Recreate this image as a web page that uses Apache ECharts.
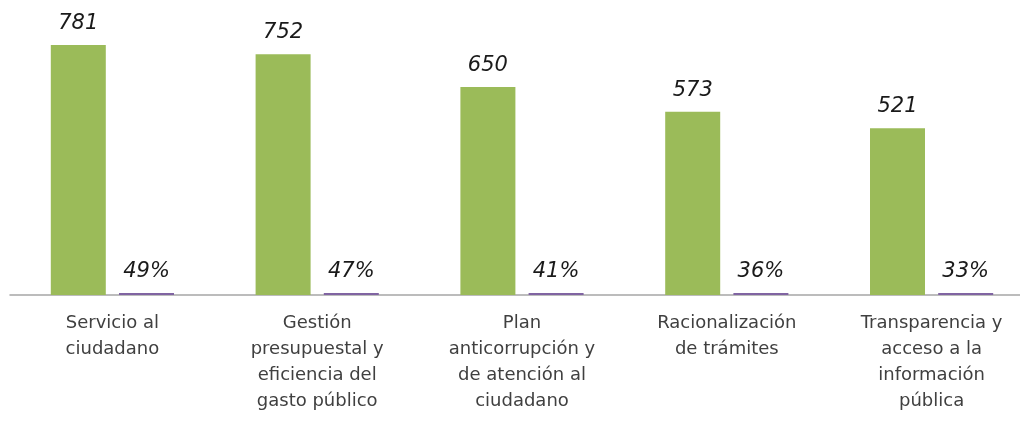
<!DOCTYPE html>
<html>
<head>
<meta charset="utf-8">
<script src="https://cdn.jsdelivr.net/npm/echarts@6/dist/echarts.min.js"></script>
<style>
  html, body { margin: 0; padding: 0; background: #fff; overflow: hidden; }
  /* the source image is cropped on the right, so the canvas runs past the window */
  #chart { width: 1034px; height: 421px; }
</style>
</head>
<body>
<div id="chart"></div>
<script>
const CATEGORIES = [
  "Servicio al\nciudadano",
  "Gestión\npresupuestal y\neficiencia del\ngasto público",
  "Plan\nanticorrupción y\nde atención al\nciudadano",
  "Racionalización\nde trámites",
  "Transparencia y\nacceso a la\ninformación\npública",
];
const COUNTS = [781, 752, 650, 573, 521];
const PERCENTS = [49, 47, 41, 36, 33];

const GREEN = "#9bbb59";
const PURPLE = "#8064a2";
const FONT = "'DejaVu Sans', sans-serif";

const chart = echarts.init(document.getElementById("chart"));

const valueLabel = (fmt) => ({
  show: true,
  position: "top",
  distance: 11,
  color: "#1a1a1a",
  fontStyle: "italic",
  fontFamily: FONT,
  fontSize: 21,
  formatter: fmt,
});

chart.setOption({
  animation: false,
  grid: { left: 10, right: 0, top: 39, bottom: 126 },
  xAxis: {
    type: "category",
    data: CATEGORIES,
    axisTick: { show: false },
    axisLine: { lineStyle: { color: "#a6a6a6", width: 1.5 } },
    axisLabel: {
      interval: 0,
      color: "#404040",
      fontFamily: FONT,
      fontSize: 18,
      lineHeight: 26,
      margin: 15,
    },
  },
  yAxis: {
    type: "value",
    min: 0,
    max: 800,
    show: false,
    splitLine: { show: false },
  },
  series: [
    {
      name: "Total",
      type: "bar",
      data: COUNTS,
      barWidth: 55,
      barGap: "24%",
      itemStyle: { color: GREEN },
      label: valueLabel((p) => p.value),
    },
    {
      name: "Porcentaje",
      type: "bar",
      data: PERCENTS.map((v) => v / 100),
      barWidth: 55,
      barMinHeight: 2,
      itemStyle: { color: PURPLE },
      label: valueLabel((p) => PERCENTS[p.dataIndex] + "%"),
    },
  ],
});

window.addEventListener("resize", () => chart.resize());
</script>
</body>
</html>
